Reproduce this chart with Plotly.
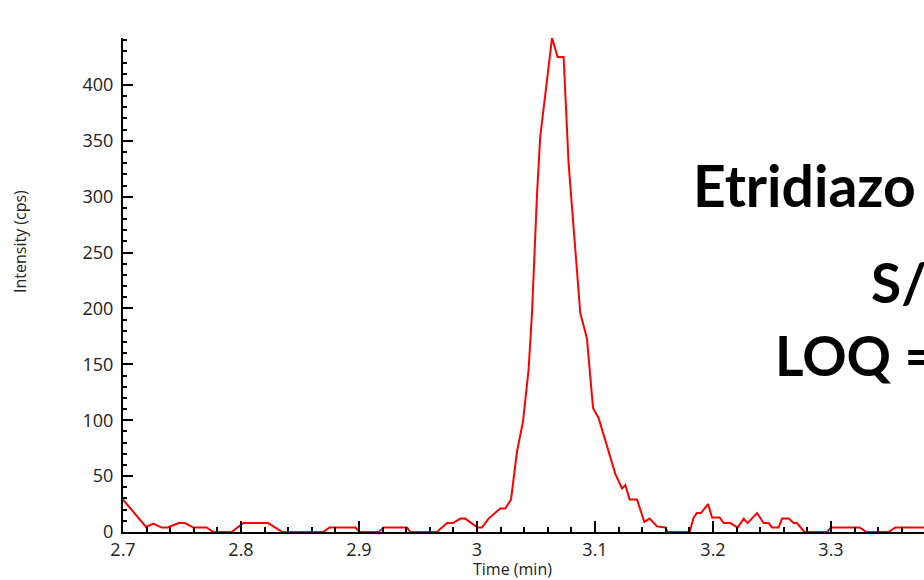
import plotly.graph_objects as go

# Chromatogram trace (Time in min, Intensity in cps)
time_min = [2.700, 2.7195, 2.7257, 2.7327, 2.738, 2.747, 2.7525, 2.7596, 2.7709, 2.7765,
            2.792, 2.802, 2.823, 2.835, 2.8695, 2.875, 2.897, 2.9005, 2.9166, 2.921,
            2.9407, 2.9435, 2.966, 2.9746, 2.9797, 2.9858, 2.990, 3.0005, 3.0042, 3.0098,
            3.0197, 3.024, 3.0288, 3.0339, 3.039, 3.0437, 3.0466, 3.0509, 3.0536, 3.0636,
            3.0683, 3.0734, 3.0776, 3.0819, 3.0875, 3.0932, 3.0983, 3.103, 3.1172, 3.1229,
            3.1257, 3.1293, 3.1356, 3.1418, 3.1463, 3.1525, 3.1596, 3.1615, 3.1802, 3.1836,
            3.1864, 3.1898, 3.1958, 3.1992, 3.2056, 3.209, 3.2147, 3.2209, 3.226, 3.2293,
            3.2373, 3.2429, 3.2471, 3.250, 3.2556, 3.2585, 3.2641, 3.2683, 3.2712, 3.2774,
            3.2966, 3.300, 3.3242, 3.3299, 3.3488, 3.3545, 3.385]
intensity = [29, 4.5, 7.5, 4, 4, 8, 8, 4, 4, 0,
             0, 8, 8, 0, 0, 4, 4, 0, 0, 4,
             4, 0, 0, 8, 8, 12, 12, 4, 4, 12,
             21, 21, 29, 72, 99, 145, 196, 303, 354, 442,
             425, 425, 330, 270, 196, 173, 111, 102, 52, 39,
             42, 29, 29, 9, 12, 5, 4, 0, 0, 13,
             17, 17, 25, 13, 13, 8, 8, 4, 12, 8,
             17, 8, 8, 4, 4, 12, 12, 8, 8, 0,
             0, 4, 4, 0, 0, 4, 4]

x_title = "Time (min)"
y_title = "Intensity (cps)"
labels = ["Etridiazo", "S/", "LOQ ="]

fig = go.Figure()
fig.add_trace(go.Scatter(x=time_min, y=intensity, mode="lines",
                         line=dict(color="#ff0000", width=2), showlegend=False,
                         hoverinfo="skip"))

tick_font = dict(family="Open Sans", size=18, color="#222222")

fig.update_layout(
    width=924, height=580,
    margin=dict(l=123, r=0, t=38, b=48, autoexpand=False),
    paper_bgcolor="white", plot_bgcolor="white",
    xaxis=dict(range=[2.7, 3.3788], tick0=2.7, dtick=0.1, tickformat="~g",
               showgrid=False, zeroline=False, showline=True, linecolor="black", linewidth=2,
               ticks="inside", ticklen=11, tickwidth=2, tickcolor="black",
               minor=dict(dtick=0.02, ticks="inside", ticklen=5, tickwidth=2, tickcolor="black"),
               tickfont=tick_font, ticklabelstandoff=0),
    yaxis=dict(range=[0, 442], tick0=0, dtick=50,
               showgrid=False, zeroline=False, showline=True, linecolor="black", linewidth=2,
               ticks="inside", ticklen=10, tickwidth=2, tickcolor="black",
               minor=dict(dtick=10, ticks="inside", ticklen=4, tickwidth=2, tickcolor="black"),
               tickfont=tick_font, ticklabelstandoff=4),
)

pw = 924 - 123
def px_to_paper_x(px):
    return (px - 123) / pw
ph = 580 - 38 - 48
def py_to_paper_y(py):
    return (580 - 48 - py) / ph

fig.add_annotation(text=x_title, xref="paper", yref="paper",
                   x=px_to_paper_x(512), y=py_to_paper_y(569), showarrow=False,
                   xanchor="center", yanchor="middle",
                   font=dict(family="Open Sans", size=16, color="#222222"))
fig.add_annotation(text=y_title, xref="paper", yref="paper",
                   x=px_to_paper_x(20), y=py_to_paper_y(242), showarrow=False,
                   textangle=-90, xanchor="center", yanchor="middle",
                   font=dict(family="Open Sans", size=16, color="#222222"))

for txt, px, py, sz in zip(labels, [691, 869, 773], [185, 282, 355], [57, 55, 55]):
    fig.add_annotation(text="<b>%s</b>" % txt, xref="paper", yref="paper",
                       x=px_to_paper_x(px), y=py_to_paper_y(py), showarrow=False,
                       xanchor="left", yanchor="middle",
                       font=dict(family="Lato", size=sz, color="black"))

fig.write_html("out.html")
